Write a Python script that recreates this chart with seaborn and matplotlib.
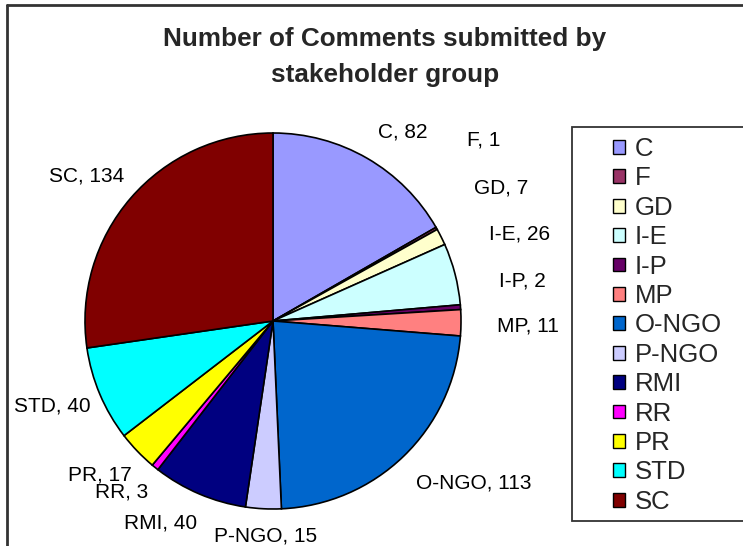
import matplotlib
matplotlib.use("Agg")
import matplotlib.pyplot as plt
import seaborn as sns
from matplotlib.patches import Rectangle, Patch
from matplotlib.lines import Line2D

sns.set_theme(style="white")
plt.rcParams['font.family'] = ['Liberation Sans', 'DejaVu Sans']

categories = ["C", "F", "GD", "I-E", "I-P", "MP", "O-NGO", "P-NGO", "RMI", "RR", "PR", "STD", "SC"]
values = [82, 1, 7, 26, 2, 11, 113, 15, 40, 3, 17, 40, 134]
colors = ["#9999FF", "#993366", "#FFFFCC", "#CCFFFF", "#660066", "#FF8080", "#0066CC",
          "#CCCCFF", "#000080", "#FF00FF", "#FFFF00", "#00FFFF", "#800000"]
title = "Number of Comments submitted by\nstakeholder group"

# label anchor positions (in pie-radius units), style only
label_pos = [(0.691, 1.005), (1.122, 0.963), (1.213, 0.707), (1.314, 0.463), (1.324, 0.213),
             (1.356, -0.027), (1.069, -0.862), (-0.037, -1.144), (-0.596, -1.074),
             (-0.803, -0.910), (-0.920, -0.819), (-1.176, -0.452), (-0.989, 0.771)]

W, H = 743, 546
fig = plt.figure(figsize=(W / 100, H / 100), dpi=100)
fig.patch.set_facecolor("white")

R = 188.0
cx, cy = 273.0, 321.0
ax = fig.add_axes([0, 0, 1, 1])

wedges, _ = ax.pie(values, colors=colors, startangle=90, counterclock=False, radius=1.0,
                   center=(0, 0), wedgeprops=dict(edgecolor="black", linewidth=1.2),
                   frame=True)
ax.set_xlim(-cx / R, (W - cx) / R)
ax.set_ylim(-(H - cy) / R, cy / R)
ax.set_aspect("auto")
ax.axis("off")

for cat, val, (lx, ly) in zip(categories, values, label_pos):
    ax.text(lx, ly, f"{cat}, {val}", ha="center", va="center", fontsize=15, color="black",
            clip_on=False)

fig.text(385 / W, 1 - 57 / H, title, ha="center", va="center", fontsize=18.8,
         fontweight="bold", linespacing=1.6)

# outer chart border (left & top visible)
fig.add_artist(Line2D([7 / W, 7 / W], [0, 1 - 5 / H], transform=fig.transFigure,
                      color="#333333", linewidth=2))
fig.add_artist(Line2D([7 / W, 1.0], [1 - 5 / H, 1 - 5 / H], transform=fig.transFigure,
                      color="#333333", linewidth=2))

# legend frame
fig.add_artist(Rectangle((572 / W, 1 - 521 / H), (W + 20 - 572) / W, (521 - 127) / H,
                         transform=fig.transFigure, facecolor="white", edgecolor="#333333",
                         linewidth=1.3, zorder=0, clip_on=False))

handles = [Patch(facecolor=c, edgecolor="black", linewidth=1.0) for c in colors]
leg = fig.legend(handles, categories, loc="upper left",
                 bbox_to_anchor=(613 / W, 1 - 137 / H), frameon=False,
                 fontsize=18.5, handlelength=0.45, handleheight=0.45, handletextpad=0.4,
                 labelspacing=0.21, borderpad=0, borderaxespad=0)

fig.savefig("out.png", dpi=100, facecolor="white")
